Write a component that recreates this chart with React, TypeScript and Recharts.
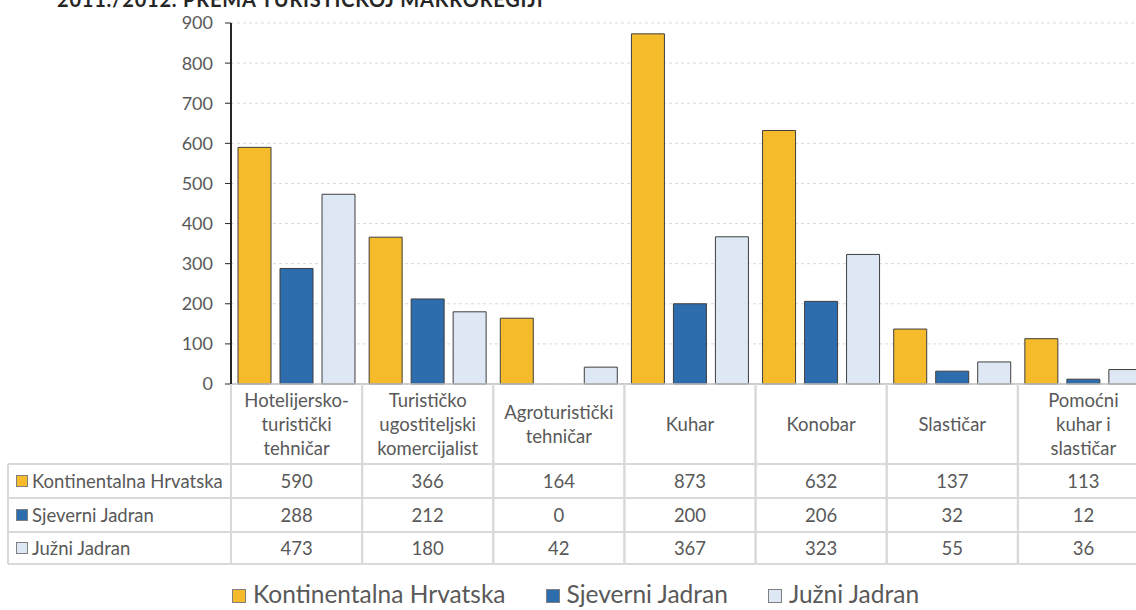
import { BarChart, Bar, XAxis, YAxis, CartesianGrid } from "recharts";

const CATEGORIES = [
  "Hotelijersko-turistički tehničar",
  "Turističko ugostiteljski komercijalist",
  "Agroturistički tehničar",
  "Kuhar",
  "Konobar",
  "Slastičar",
  "Pomoćni kuhar i slastičar",
];

// how each category name is broken in the table header
const CATEGORY_LINES = [
  ["Hotelijersko-", "turistički", "tehničar"],
  ["Turističko", "ugostiteljski", "komercijalist"],
  ["Agroturistički", "tehničar"],
  ["Kuhar"],
  ["Konobar"],
  ["Slastičar"],
  ["Pomoćni", "kuhar i", "slastičar"],
];

const KONTINENTALNA = [590, 366, 164, 873, 632, 137, 113];
const SJEVERNI = [288, 212, 0, 200, 206, 32, 12];
const JUZNI = [473, 180, 42, 367, 323, 55, 36];

const Y_TICKS = [0, 100, 200, 300, 400, 500, 600, 700, 800, 900];

const SERIES = [
  { key: "kontinentalna", name: "Kontinentalna Hrvatska", color: "#F5BB2A", values: KONTINENTALNA },
  { key: "sjeverni", name: "Sjeverni Jadran", color: "#2E6DAD", values: SJEVERNI },
  { key: "juzni", name: "Južni Jadran", color: "#DDE8F4", values: JUZNI },
];

const data = CATEGORIES.map((name, i) => {
  const row: Record<string, string | number> = { name };
  SERIES.forEach((s) => (row[s.key] = s.values[i]));
  return row;
});

const CHART_W = 1160;
const CHART_H = 610;
const PLOT_LEFT = 231;
const PLOT_RIGHT = 1149;
const BAND = (PLOT_RIGHT - PLOT_LEFT) / CATEGORIES.length;
const AXIS_Y = 384;
const ROW_LINES = [464, 498, 532, 564];
const ROW_CENTERS = [481, 515, 548];
const BORDER = "#d9d9d9";
const TEXT = "#595959";
const FONT = "Lato, 'Open Sans', sans-serif";

function TableColumn(props: any) {
  const { x, index } = props;
  const left = x - BAND / 2;
  const right = x + BAND / 2;
  const lines = CATEGORY_LINES[index] ?? [];
  const n = lines.length;

  return (
    <g fontFamily={FONT} fontSize={18.5} fill={TEXT}>
      <line x1={left} x2={left} y1={AXIS_Y} y2={564} stroke={BORDER} strokeWidth={2} />
      <line x1={right} x2={right} y1={AXIS_Y} y2={564} stroke={BORDER} strokeWidth={2} />
      {ROW_LINES.map((y) => (
        <line key={y} x1={left} x2={right} y1={y} y2={y} stroke={BORDER} strokeWidth={2} />
      ))}
      {lines.map((t, i) => (
        <text
          key={t}
          x={x}
          y={424 + (i - (n - 1) / 2) * 24}
          textAnchor="middle"
          dominantBaseline="central"
        >
          {t}
        </text>
      ))}
      {SERIES.map((s, r) => (
        <text
          key={s.key}
          x={x}
          y={ROW_CENTERS[r]}
          textAnchor="middle"
          dominantBaseline="central"
        >
          {s.values[index]}
        </text>
      ))}
      {index === 0 && (
        <g>
          <line x1={8} x2={8} y1={464} y2={564} stroke={BORDER} strokeWidth={2} />
          {ROW_LINES.map((y) => (
            <line key={y} x1={8} x2={left} y1={y} y2={y} stroke={BORDER} strokeWidth={2} />
          ))}
          {SERIES.map((s, r) => (
            <g key={s.key}>
              <rect
                x={16.5}
                y={ROW_CENTERS[r] - 5.5}
                width={11}
                height={11}
                fill={s.color}
                stroke="#7f7f7f"
                strokeWidth={1}
              />
              <text x={32} y={ROW_CENTERS[r]} dominantBaseline="central">
                {s.name}
              </text>
            </g>
          ))}
        </g>
      )}
    </g>
  );
}

export default function App() {
  return (
    <div
      style={{
        position: "fixed",
        left: 0,
        top: 0,
        width: 1136,
        height: 610,
        overflow: "hidden",
        background: "#fff",
        fontFamily: FONT,
      }}
    >
      <div
        style={{
          position: "absolute",
          left: 57,
          top: -11,
          fontSize: 20,
          lineHeight: 1,
          fontWeight: 700,
          letterSpacing: 0.8,
          color: "#262626",
          whiteSpace: "nowrap",
        }}
      >
        2011./2012. PREMA TURISTIČKOJ MAKROREGIJI
      </div>
      <BarChart
        width={CHART_W}
        height={CHART_H}
        data={data}
        margin={{ top: 23, right: CHART_W - PLOT_RIGHT, left: 0, bottom: 0 }}
        barSize={33}
        barGap={9}
      >
        <CartesianGrid vertical={false} strokeDasharray="3 3" stroke="#d9d9d9" />
        <XAxis
          dataKey="name"
          height={CHART_H - AXIS_Y}
          interval={0}
          tickLine={false}
          axisLine={{ stroke: "#bfbfbf", strokeWidth: 1.5 }}
          tick={<TableColumn />}
        />
        <YAxis
          width={PLOT_LEFT}
          domain={[0, 900]}
          ticks={Y_TICKS}
          interval={0}
          tickSize={6}
          tickMargin={12}
          axisLine={{ stroke: "#262626", strokeWidth: 2 }}
          tickLine={{ stroke: "#262626" }}
          tick={{ fill: TEXT, fontSize: 18, fontFamily: FONT }}
        />
        {SERIES.map((s) => (
          <Bar
            key={s.key}
            dataKey={s.key}
            name={s.name}
            fill={s.color}
            stroke="#3f3f3f"
            strokeWidth={1}
            isAnimationActive={false}
          />
        ))}
      </BarChart>
      <div
        style={{
          position: "absolute",
          left: 0,
          width: 1151,
          top: 579,
          display: "flex",
          justifyContent: "center",
          alignItems: "baseline",
          gap: 40,
          fontSize: 24.5,
          color: TEXT,
          lineHeight: "30px",
        }}
      >
        {SERIES.map((s) => (
          <div key={s.key} style={{ display: "flex", alignItems: "baseline" }}>
            <span
              style={{
                display: "inline-block",
                width: 12,
                height: 12,
                background: s.color,
                border: "1px solid #7f7f7f",
                marginRight: 7,
              }}
            />
            {s.name}
          </div>
        ))}
      </div>
    </div>
  );
}
